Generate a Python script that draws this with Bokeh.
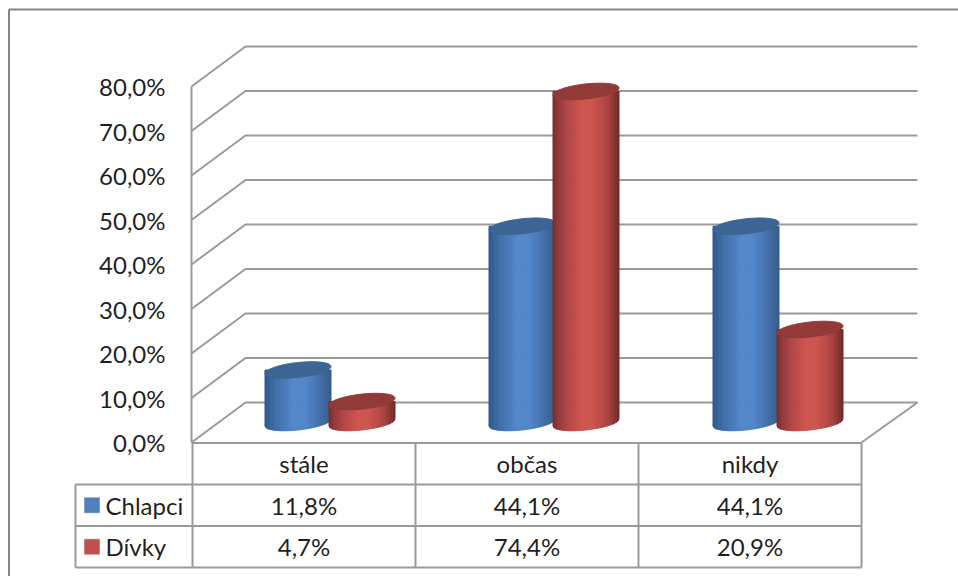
import numpy as np
from bokeh.embed import file_html
from bokeh.models import Range1d
from bokeh.plotting import figure
from bokeh.resources import INLINE
from bokeh.core.properties import value

categories = ["stále", "občas", "nikdy"]
series_names = ["Chlapci", "Dívky"]
chlapci = [11.8, 44.1, 44.1]
divky = [4.7, 74.4, 20.9]
chlapci_labels = ["11,8%", "44,1%", "44,1%"]
divky_labels = ["4,7%", "74,4%", "20,9%"]
tick_values = [0, 10, 20, 30, 40, 50, 60, 70, 80]
tick_labels = ["0,0%", "10,0%", "20,0%", "30,0%", "40,0%", "50,0%", "60,0%", "70,0%", "80,0%"]

W, H = 958, 576
FLOOR_PX = 442.0          # screen row of 0 % on the front edge
PX_PER_UNIT = 4.45        # screen pixels per percentage point
FONT = value("Lato")
INK = "#1f1f1f"
GRID = "#9a9a9a"
BORDER = "#868686"


def py(row):
    """Screen row to value-axis units."""
    return (FLOOR_PX - np.asarray(row, dtype=float)) / PX_PER_UNIT


p = figure(width=W, height=H, output_backend="svg", toolbar_location=None,
           x_range=Range1d(0, W), y_range=Range1d(float(py(H)), float(py(0))),
           min_border=0, outline_line_color=None, background_fill_color="white")
p.axis.visible = False
p.grid.visible = False

# Outer chart border, open towards the right and bottom edges of the page
p.line([8.5, 8.5], [py(H), py(9)], line_color=BORDER, line_width=2)
p.line([8.5, W], [py(9), py(9)], line_color=BORDER, line_width=2)

# Box walls and floor
LEFT, RIGHT, BACK_L, BACK_R = 191.0, 861.0, 245.0, 917.0
DEPTH_UNITS = 40.0 / PX_PER_UNIT
for v in tick_values:
    p.line([LEFT, BACK_L, BACK_R], [v, v + DEPTH_UNITS, v + DEPTH_UNITS],
           line_color=GRID, line_width=2)
p.line([LEFT, LEFT], [0, max(tick_values)], line_color=GRID, line_width=2)
p.line([RIGHT, BACK_R], [0, DEPTH_UNITS], line_color=GRID, line_width=2)

# Value-axis labels
p.text([165] * len(tick_values), tick_values, text=tick_labels, text_font=FONT,
       text_font_size="24px", text_align="right", text_baseline="middle", text_color=INK)


def mix(stops, t):
    xs = [s[0] for s in stops]
    rgb = [np.interp(t, xs, [s[1][i] for s in stops]) for i in range(3)]
    return "#%02x%02x%02x" % tuple(int(round(c)) for c in rgb)


BLUE_STOPS = [(0, (48, 88, 138)), (0.18, (66, 112, 170)), (0.45, (84, 136, 204)),
              (0.62, (82, 134, 200)), (0.85, (66, 110, 166)), (1, (54, 92, 140))]
RED_STOPS = [(0, (118, 48, 46)), (0.18, (170, 68, 66)), (0.45, (206, 86, 80)),
             (0.62, (204, 84, 78)), (0.85, (166, 66, 64)), (1, (112, 44, 42))]
BLUE_TOP, RED_TOP = "#3d6593", "#913a38"

RADIUS = 33.0
TILT = 3.5
SQUASH = 7.5
BASE_ROW = 422.0
CAT_W = 224.0
FIRST_CENTER = 329.5
BAR_OFFSET = 32.0


def cylinder(center, val, stops, top_color):
    base = float(py(BASE_ROW))
    top = base + val
    tilt, squash = TILT / PX_PER_UNIT, SQUASH / PX_PER_UNIT
    n = 48
    edges = np.linspace(center - RADIUS, center + RADIUS, n + 1)

    def lower(x):
        c = np.clip((x - center) / RADIUS, -1, 1)
        return tilt * c - squash * np.sqrt(1 - c ** 2)

    xs, ys, colors = [], [], []
    for i in range(n):
        x0, x1 = edges[i], edges[i + 1]
        xm = np.linspace(x0, x1, 3)
        xs.append(list(xm) + [x1, x0])
        ys.append(list(base + lower(xm)) + [top, top])
        colors.append(mix(stops, (i + 0.5) / n))
    p.patches(xs, ys, fill_color=colors, line_color=colors, line_width=1)

    t = np.linspace(0, 2 * np.pi, 90)
    p.patch(center + RADIUS * np.cos(t), top + tilt * np.cos(t) + squash * np.sin(t),
            fill_color=top_color, line_color=top_color, line_width=1)


for i in range(len(categories)):
    cx = FIRST_CENTER + i * CAT_W
    cylinder(cx - BAR_OFFSET, chlapci[i], BLUE_STOPS, BLUE_TOP)
    cylinder(cx + BAR_OFFSET, divky[i], RED_STOPS, RED_TOP)

# Data table under the plot
TABLE_L, TABLE_X = 75.0, 192.0
COLS = [TABLE_X + k * (RIGHT - TABLE_X) / 3 for k in range(4)]
ROWS = [442.5, 484.0, 525.5, 567.0]
for k, x in enumerate(COLS):
    p.line([x, x], py([ROWS[0], ROWS[3]]), line_color=GRID, line_width=2)
p.line([TABLE_L, TABLE_L], py([ROWS[1], ROWS[3]]), line_color=GRID, line_width=2)
p.line([TABLE_X, RIGHT], py([ROWS[0], ROWS[0]]), line_color=GRID, line_width=2)
for r in ROWS[1:]:
    p.line([TABLE_L, RIGHT], py([r, r]), line_color=GRID, line_width=2)

centers = [(COLS[k] + COLS[k + 1]) / 2 for k in range(3)]
for r, labels in zip(range(3), [categories, chlapci_labels, divky_labels]):
    row = (ROWS[r] + ROWS[r + 1]) / 2
    p.text(centers, [float(py(row))] * 3, text=labels, text_font=FONT, text_font_size="24px",
           text_align="center", text_baseline="middle", text_color=INK)

# Series keys in the first table column
for r, name, colour in zip([1, 2], series_names, ["#4f81bd", "#c0504d"]):
    row = (ROWS[r] + ROWS[r + 1]) / 2
    p.quad(left=[84], right=[99], top=py([row - 7.5]), bottom=py([row + 7.5]),
           fill_color=colour, line_color=colour, line_width=0.5)
    p.text([105], [float(py(row))], text=[name], text_font=FONT, text_font_size="24px",
           text_align="left", text_baseline="middle", text_color=INK)

open("out.html", "w").write(file_html(p, INLINE))
